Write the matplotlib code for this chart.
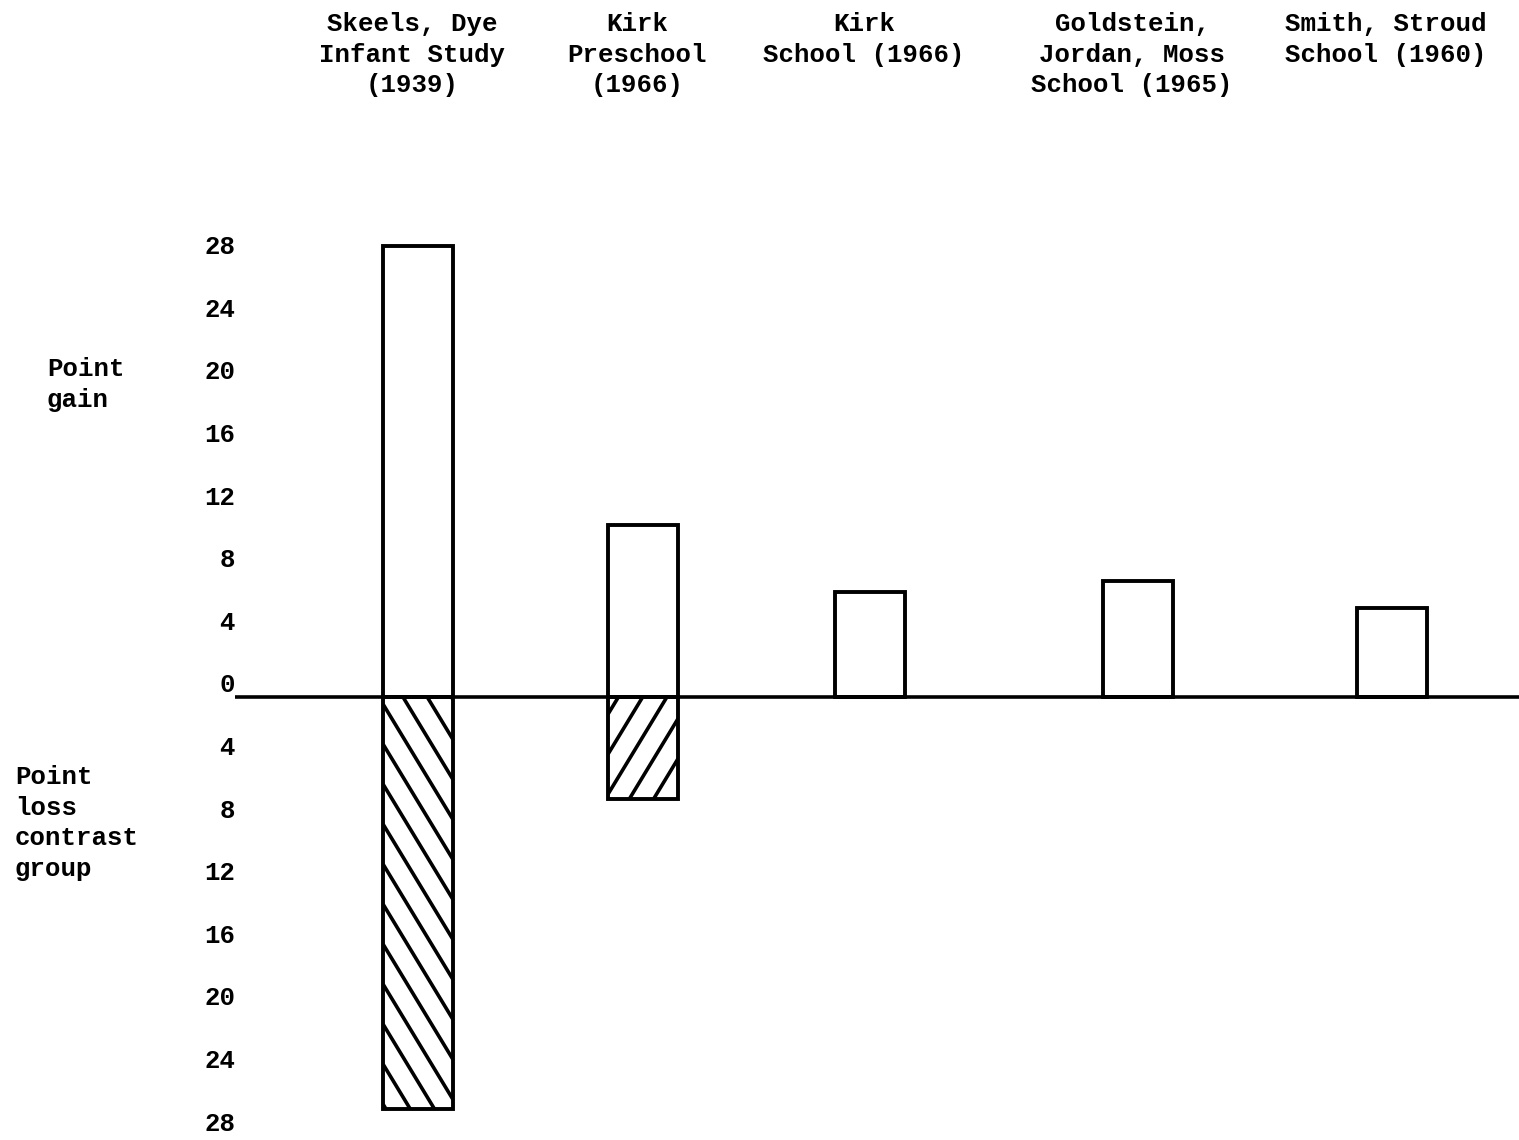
import matplotlib
matplotlib.use("Agg")
import matplotlib.pyplot as plt
import numpy as np

# data
studies = ["Skeels, Dye\nInfant Study\n(1939)",
           "Kirk\nPreschool\n(1966)",
           "Kirk\nSchool (1966)",
           "Goldstein,\nJordan, Moss\nSchool (1965)",
           "Smith, Stroud\nSchool (1960)"]
x_pos = [418, 643, 870, 1138, 1392]
gain = [28.8, 11.0, 6.7, 7.4, 5.7]
loss = [26.3, 6.5, 0, 0, 0]          # contrast group loss
loss_hatch = ["\\", "/", None, None, None]
tick_vals = [28, 24, 20, 16, 12, 8, 4, 0, -4, -8, -12, -16, -20, -24, -28]

plt.rcParams["font.family"] = ["Liberation Mono", "DejaVu Sans Mono"]
plt.rcParams["font.weight"] = "bold"
fs = 18.5
lsp = 1.35

fig = plt.figure(figsize=(15.19, 11.4), dpi=100)
ax = fig.add_axes([235 / 1519, 0, 1 - 235 / 1519, 1])
ax.set_xlim(235, 1519)
ax.set_ylim(-28.31, 44.54)
for s in ax.spines.values():
    s.set_visible(False)
ax.set_xticks([])

# tick labels sit a bit above the true tick (typed that way)
ax.set_yticks([v + 0.9 for v in tick_vals])
ax.set_yticklabels([str(abs(v)) for v in tick_vals], fontsize=fs, fontweight="bold")
ax.tick_params(axis="y", length=0, pad=0)

lw = 2.8
bw = 70
ax.bar(x_pos, gain, width=bw, color="white", edgecolor="black", linewidth=lw, zorder=2)
lbars = ax.bar(x_pos, [-l for l in loss], width=bw, color="white", edgecolor="black",
               linewidth=lw, zorder=2)

fig.canvas.draw()
ppu = ax.transData.transform((0, 1))[1] - ax.transData.transform((0, 0))[1]
steep = 1.65      # slope of hatch lines in pixels
gap = 40 / ppu    # vertical spacing of hatch lines in data units
for b, h in zip(lbars, loss_hatch):
    if h is None or b.get_height() == 0:
        continue
    x0 = b.get_x()
    x1 = x0 + b.get_width()
    ytop = 0
    ybot = b.get_height()
    dy = steep * (x1 - x0) / ppu
    sign = -1 if h == "\\" else 1
    starts = np.arange(ybot - dy - gap, ytop + dy + gap, gap)
    for y0 in starts:
        line, = ax.plot([x0, x1], [y0, y0 + sign * dy], color="black", lw=2.6, zorder=3,
                        solid_capstyle="butt")
        line.set_clip_path(b)

ax.axhline(0, color="black", lw=2.6, zorder=4)

# column headings
for x, s in zip(x_pos, studies):
    ax.text(x - 6, 1 - 12 / 1140, s, transform=ax.get_xaxis_transform(),
            ha="center", va="top", fontsize=fs, fontweight="bold", linespacing=lsp)

fig.text(47 / 1519, 1 - 357 / 1140, "Point\ngain", ha="left", va="top",
         fontsize=fs, fontweight="bold", linespacing=lsp)
fig.text(15 / 1519, 1 - 765 / 1140, "Point\nloss\ncontrast\ngroup", ha="left", va="top",
         fontsize=fs, fontweight="bold", linespacing=lsp)

fig.savefig("out.png", dpi=100, facecolor="white")
